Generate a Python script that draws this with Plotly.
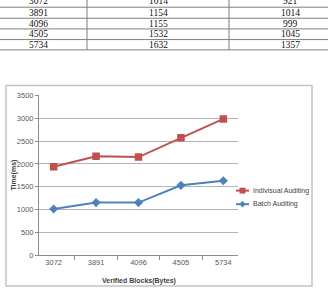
import plotly.graph_objects as go

# Chart data
blocks = ["3072", "3891", "4096", "4505", "5734"]
individual = [1940, 2170, 2150, 2575, 2985]
batch = [1014, 1154, 1155, 1532, 1632]

# Table data (partially visible at top)
tbl_col1 = ["3072", "3891", "4096", "4505", "5734"]
tbl_col2 = ["1014", "1154", "1155", "1532", "1632"]
tbl_col3 = ["921", "1014", "999", "1045", "1357"]

W, H = 328, 294
def px(x): return x / W
def py(y): return 1 - y / H

RED = "#C0504D"
BLUE = "#4F81BD"
FONT = "Liberation Sans Narrow, Liberation Sans"

fig = go.Figure()
fig.add_trace(go.Scatter(x=blocks, y=individual, mode="lines+markers", name="Indivisual Auditing",
                         line=dict(color=RED, width=2), marker=dict(symbol="square", size=7.5, color=RED),
                         showlegend=False))
fig.add_trace(go.Scatter(x=blocks, y=batch, mode="lines+markers", name="Batch Auditing",
                         line=dict(color=BLUE, width=2), marker=dict(symbol="diamond", size=7, color=BLUE),
                         showlegend=False))

shapes = []
annotations = []

# Table lines
row_lines = [3.3, 14.7, 25.7, 36.7, 47.3]
for y in row_lines:
    shapes.append(dict(type="line", xref="paper", yref="paper", x0=0, x1=1, y0=py(y), y1=py(y),
                       line=dict(color="#7f7f7f", width=1)))
for x in [87, 229]:
    shapes.append(dict(type="line", xref="paper", yref="paper", x0=px(x), x1=px(x), y0=py(-5), y1=py(47.3),
                       line=dict(color="#7f7f7f", width=1)))
row_centers = [-3.5, 9, 20.2, 31.2, 42]
col_x = [38, 158, 290]
for i, yc in enumerate(row_centers):
    for cx, col in zip(col_x, [tbl_col1, tbl_col2, tbl_col3]):
        annotations.append(dict(text=col[i], xref="paper", yref="paper", x=px(cx), y=py(yc),
                                xanchor="center", yanchor="middle", showarrow=False,
                                font=dict(family="Liberation Serif", size=9.5, color="#111111")))

# Chart frame
shapes.append(dict(type="rect", xref="paper", yref="paper", x0=px(6), x1=px(312), y0=py(291), y1=py(84),
                   line=dict(color="#c4c4c4", width=1.5), layer="below"))

# Axis titles
annotations.append(dict(text="<b>Time(ms)</b>", xref="paper", yref="paper", x=px(14), y=py(177),
                        textangle=-90, showarrow=False, xanchor="center", yanchor="middle",
                        font=dict(family=FONT, size=7, color="#404040")))
annotations.append(dict(text="<b>Verified Blocks(Bytes)</b>", xref="paper", yref="paper", x=px(139), y=py(286),
                        showarrow=False, xanchor="center", yanchor="middle",
                        font=dict(family=FONT, size=7, color="#404040")))

# Manual legend
leg = [("Indivisual Auditing", RED, "square", 192.5), ("Batch Auditing", BLUE, "diamond", 206.5)]
for name, color, sym, yy in leg:
    shapes.append(dict(type="line", xref="paper", yref="paper", x0=px(236), x1=px(249), y0=py(yy), y1=py(yy),
                       line=dict(color=color, width=2)))
    if sym == "square":
        shapes.append(dict(type="rect", xref="paper", yref="paper", x0=px(239.5), x1=px(245.5),
                           y0=py(yy + 3), y1=py(yy - 3), fillcolor=color, line=dict(width=0)))
    else:
        cx, cy = 242.5, yy
        path = f"M{px(cx)},{py(cy-3.5)} L{px(cx+3)},{py(cy)} L{px(cx)},{py(cy+3.5)} L{px(cx-3)},{py(cy)} Z"
        shapes.append(dict(type="path", xref="paper", yref="paper", path=path, fillcolor=color, line=dict(width=0)))
    annotations.append(dict(text=name, xref="paper", yref="paper", x=px(251), y=py(yy), xanchor="left",
                            yanchor="middle", showarrow=False,
                            font=dict(family=FONT, size=7, color="#404040")))

fig.update_layout(
    width=W, height=H, autosize=False,
    margin=dict(l=0, r=0, t=0, b=0),
    paper_bgcolor="white", plot_bgcolor="white",
    shapes=shapes, annotations=annotations,
    xaxis=dict(domain=[px(39), px(238)], type="category", tickson="boundaries", ticks="outside",
               ticklen=4, tickcolor="#8c8c8c", showline=True, linecolor="#8c8c8c", linewidth=1,
               showgrid=False, tickfont=dict(family=FONT, size=7.5, color="#595959"),
               fixedrange=True),
    yaxis=dict(domain=[py(259.3), py(94.3)], range=[0, 3500], dtick=500, ticks="outside", ticklen=3,
               tickcolor="#8c8c8c", showline=True, linecolor="#8c8c8c", linewidth=1,
               showgrid=True, gridcolor="#b4b4b4", gridwidth=1, zeroline=False,
               tickfont=dict(family=FONT, size=7.5, color="#595959"),
               fixedrange=True),
)

fig.write_html("out.html")
